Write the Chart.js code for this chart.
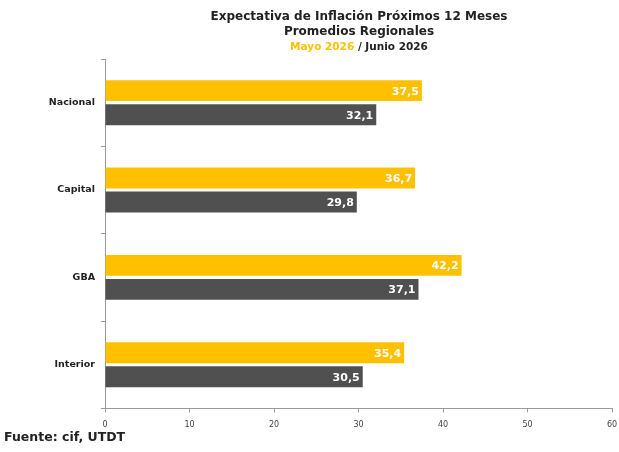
<!DOCTYPE html>
<html><head><meta charset="utf-8">
<script src="https://cdn.jsdelivr.net/npm/chart.js@4"></script>
<style>html,body{margin:0;padding:0;background:#fff;}canvas{display:block;}</style>
</head><body>
<canvas id="c" width="619" height="452"></canvas>
<script>
const categories = ["Nacional", "Capital", "GBA", "Interior"];
const mayo2026 = [37.5, 36.7, 42.2, 35.4];
const junio2026 = [32.1, 29.8, 37.1, 30.5];
const xTicks = [0, 10, 20, 30, 40, 50, 60];
const titleLines = ["Expectativa de Inflación Próximos 12 Meses", "Promedios Regionales"];
const subtitleParts = ["Mayo 2026", " / Junio 2026"];
const footerText = "Fuente: cif, UTDT";

const YELLOW = "#FFC000";
const DARK = "#505050";
const FONT = "'DejaVu Sans', Verdana, sans-serif";

const overlay = {
  id: "overlay",
  afterDatasetsDraw(chart) {
    const ctx = chart.ctx;
    ctx.save();
    ctx.font = "bold 11px " + FONT;
    ctx.fillStyle = "#fff";
    ctx.textAlign = "right";
    ctx.textBaseline = "middle";
    chart.data.datasets.forEach((ds, di) => {
      chart.getDatasetMeta(di).data.forEach((bar, i) => {
        ctx.fillText(ds.data[i].toFixed(1).replace(".", ","), bar.x - 3, bar.y + 1);
      });
    });
    ctx.restore();
  },
  afterDraw(chart) {
    const ctx = chart.ctx;
    ctx.save();
    const cx = 359;
    ctx.textBaseline = "middle";
    ctx.textAlign = "center";
    ctx.fillStyle = "#222";
    ctx.font = "bold 12px " + FONT;
    ctx.fillText(titleLines[0], cx, 17);
    ctx.fillText(titleLines[1], cx, 32);
    ctx.font = "bold 10.5px " + FONT;
    const w0 = ctx.measureText(subtitleParts[0]).width;
    const w1 = ctx.measureText(subtitleParts[1]).width;
    let x = cx - (w0 + w1) / 2;
    ctx.textAlign = "left";
    ctx.fillStyle = YELLOW;
    ctx.fillText(subtitleParts[0], x, 47);
    ctx.fillStyle = "#222";
    ctx.fillText(subtitleParts[1], x + w0, 47);
    ctx.font = "bold 12.5px " + FONT;
    ctx.fillStyle = "#222";
    ctx.fillText(footerText, 4, 438);
    ctx.restore();
  }
};

new Chart(document.getElementById("c"), {
  type: "bar",
  data: {
    labels: categories,
    datasets: [
      { label: "Mayo 2026", data: mayo2026, backgroundColor: YELLOW, categoryPercentage: 0.55, barPercentage: 0.87 },
      { label: "Junio 2026", data: junio2026, backgroundColor: DARK, categoryPercentage: 0.55, barPercentage: 0.87 }
    ]
  },
  options: {
    indexAxis: "y",
    responsive: false,
    animation: false,
    layout: { padding: { top: 59, right: 7, bottom: 14, left: 0 } },
    plugins: { legend: { display: false }, title: { display: false }, tooltip: { enabled: false } },
    scales: {
      x: {
        min: 0, max: 60,
        afterBuildTicks(s) { s.ticks = xTicks.map(v => ({ value: v })); },
        afterFit(s) { s.paddingRight = 0; s.paddingLeft = 0; },
        grid: { drawOnChartArea: false, drawTicks: true, tickLength: 4, color: "#999" },
        border: { color: "#999" },
        ticks: { color: "#444", font: { family: FONT, size: 8 }, padding: 8 }
      },
      y: {
        afterFit(s) { s.width = 105; },
        grid: { drawOnChartArea: false, drawTicks: true, tickLength: 4, color: "#999" },
        border: { color: "#999" },
        ticks: { color: "#222", font: { family: FONT, size: 9.5, weight: "bold" }, padding: 6 }
      }
    }
  },
  plugins: [overlay]
});
</script>
</body></html>
